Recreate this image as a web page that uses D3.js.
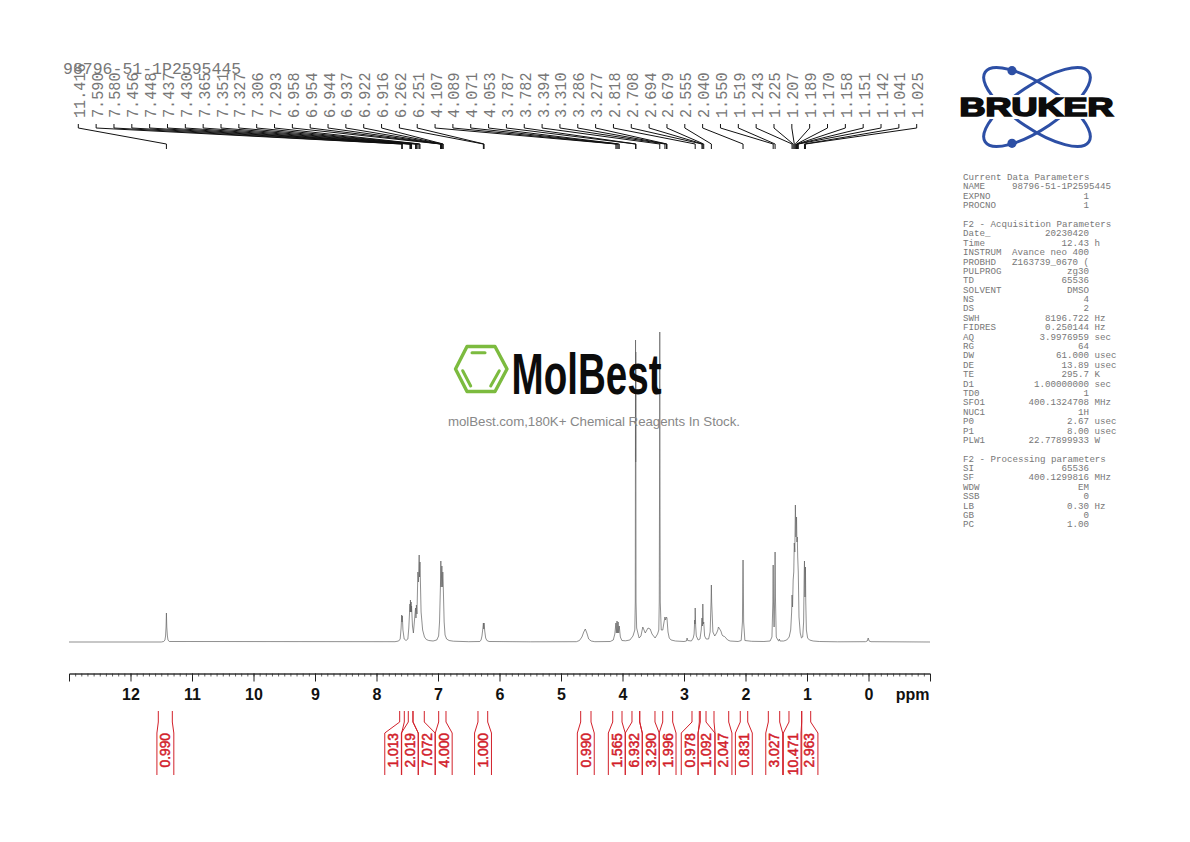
<!DOCTYPE html>
<html><head><meta charset="utf-8">
<style>html,body{margin:0;padding:0;background:#fff}svg{display:block}</style>
<script src="https://cdn.jsdelivr.net/npm/d3@7/dist/d3.min.js"></script>
</head><body><svg id="c" width="1190" height="842"></svg>
<script>
const sampleName = "98796-51-1P2595445";
const peakPicks = ["11.416","7.590","7.580","7.456","7.448","7.437","7.430","7.365","7.351","7.327","7.306","7.293",
 "6.958","6.954","6.944","6.937","6.922","6.916","6.262","6.251","4.107","4.089","4.071","4.053",
 "3.787","3.782","3.394","3.310","3.286","3.277","2.818","2.708","2.694","2.679","2.555","2.040",
 "1.550","1.519","1.243","1.225","1.207","1.189","1.170","1.158","1.151","1.142","1.041","1.025"];
const spectrumPpm = [13,11.5,11.46,11.44,11.43,11.422,11.416,11.41,11.4,11.39,11.37,7.7,7.64,
 7.615,7.6,7.59,7.585,7.58,7.57,7.55,7.52,7.49,7.475,7.456,7.452,7.448,7.443,7.437,7.433,7.43,7.415,7.4,
 7.365,7.358,7.351,7.342,7.327,7.318,7.306,7.3,7.293,7.275,7.25,7.22,7.19,7.15,7.08,7.02,6.99,6.975,
 6.958,6.954,6.949,6.944,6.937,6.93,6.922,6.916,6.9,6.885,6.86,6.82,6.75,6.5,6.32,6.3,6.285,6.27,6.262,6.256,6.251,6.24,6.225,6.205,6.17,
 5.5,4.75,4.7,4.66,4.63,4.605,4.58,4.55,4.51,4.45,4.2,4.15,4.125,4.107,4.1,4.089,4.08,4.071,4.062,4.053,4.035,4.01,3.95,3.88,3.83,3.8,3.792,3.788,3.786,3.784,3.78,3.77,3.73,
 3.7,3.67,3.63,3.585,3.55,3.52,3.47,3.43,3.41,3.402,3.396,3.394,3.392,3.386,3.37,3.345,3.33,3.31,3.3,3.286,3.277,3.26,3.24,3.21,3.14,3,2.96,2.95,2.94,2.88,
 2.85,2.836,2.826,2.822,2.818,2.81,2.8,2.77,2.74,2.72,2.708,2.7,2.694,2.687,2.679,2.665,2.64,2.6,2.575,2.56,2.555,2.55,2.53,2.5,2.47,2.45,2.44,2.42,2.4,2.38,2.366,2.34,2.29,2.25,2.12,
 2.07,2.05,2.043,2.04,2.037,2.03,2.01,1.9,1.7,1.6,1.57,1.555,1.55,1.545,1.535,1.525,1.519,1.513,1.5,1.47,1.46,1.45,1.44,1.38,1.33,1.29,1.265,1.25,1.243,1.235,1.225,1.215,1.207,1.198,1.189,1.18,1.17,1.164,1.158,1.151,1.142,1.13,1.11,1.09,1.07,1.055,1.045,1.041,1.037,1.033,1.029,1.025,1.02,1.01,.99,.96,.9,.8,.5,.05,.02,.005,-.01,-.04,-1];
const spectrumHeight = [0,0,.5,2,6,15,29,15,6,2,.5,.3,1,
 3,14,27,20,26,12,3,1.5,3,14,38,30,42,30,40,30,36,16,9,
 34,24,37,28,70,60,87,65,80,30,12,5,2.5,1.5,1,2,6,20,
 62,81,55,64,76,55,70,60,20,7,3,1.5,.8,.3,.5,2,6,14,19,13,19,11,4,1.5,.5,
 .2,.3,1.5,5,10,13,9,3,1,.3,.5,2,8,19,9,21,9,20,9,16,5,1.5,1.2,2,6,12,40,302,180,290,40,14,4,
 6,15,9,14,13,8,4,8,12,40,200,310,200,40,12,12,18,25,22,25,24,10,4,2,1,.5,1,4,1.5,1,
 4,8,22,18,34,16,6,2,3,12,24,16,38,18,20,6,3,3,10,40,57,40,10,6,9,12,15,13,11,7,6,5.5,2,1,.5,
 1.5,20,70,82,70,20,1.5,.7,.5,1,5,40,77,40,15,45,90,45,5,1.5,1,3,1,1,2,5,12,30,47,35,62,70,99,90,137,105,125,100,105,85,70,25,9,4,5,20,70,81,60,45,60,75,40,12,4,2,1,.5,.2,.3,1,4,1,.3,0];
const integralValues = ["0.990","1.013","2.019","7.072","4.000","1.000","0.990","1.565","6.932","3.290","1.996","0.978","1.092","2.047","0.831","3.027","10.471","2.963"];
const integralFrom = [11.548,7.623,7.483,7.407,6.989,6.35,4.68,4.159,3.846,3.72,3.346,2.87,2.735,2.512,2.085,1.629,1.293,1.086];
const integralTo   = [11.32,7.548,7.407,7.223,6.87,6.192,4.512,4.008,3.72,3.472,3.184,2.751,2.642,2.273,1.964,1.444,1.086,.94];
const integralLabelAt = [11.433,7.728,7.458,7.184,6.907,6.268,4.597,4.093,3.817,3.54,3.267,2.907,2.635,2.358,2.027,1.533,1.235,.96];
const axisTicks = [12,11,10,9,8,7,6,5,4,3,2,1,0];
const minorTicks = d3.range(129,-10,-1).map(d=>d/10);
const paramLines = [
["Current Data Parameters"],["NAME","98796-51-1P2595445"],["EXPNO","1"],["PROCNO","1"],[],
["F2 - Acquisition Parameters"],["Date_","20230420"],["Time","12.43","h"],["INSTRUM","Avance neo 400"],["PROBHD","Z163739_0670 ("],["PULPROG","zg30"],["TD","65536"],["SOLVENT","DMSO"],["NS","4"],["DS","2"],["SWH","8196.722","Hz"],["FIDRES","0.250144","Hz"],["AQ","3.9976959","sec"],["RG","64"],["DW","61.000","usec"],["DE","13.89","usec"],["TE","295.7","K"],["D1","1.00000000","sec"],["TD0","1"],["SFO1","400.1324708","MHz"],["NUC1","1H"],["P0","2.67","usec"],["P1","8.00","usec"],["PLW1","22.77899933","W"],[],
["F2 - Processing parameters"],["SI","65536"],["SF","400.1299816","MHz"],["WDW","EM"],["SSB","0"],["LB","0.30","Hz"],["GB","0"],["PC","1.00"]];

const svg = d3.select("#c");
const mono = "'Liberation Mono',monospace", sans = "'Liberation Sans',Arial,sans-serif";
const x = d3.scaleLinear().domain([13,-1]).range([69,930]);
const y = d3.scaleLinear().domain([0,310]).range([642,332]);

// spectrum
const pts = d3.zip(spectrumPpm, spectrumHeight);
svg.append("path").attr("d", d3.line().x(d=>x(d[0])).y(d=>y(d[1]))(pts))
  .attr("fill","none").attr("stroke","#606060").attr("stroke-width",.7).attr("stroke-linejoin","round");

// axis
const axY = 673.5;
const gMinor = svg.append("g").attr("transform",`translate(0,${axY})`)
  .call(d3.axisBottom(x).tickValues(minorTicks).tickSize(3).tickSizeOuter(0).tickFormat(""));
const gMajor = svg.append("g").attr("transform",`translate(0,${axY})`)
  .call(d3.axisBottom(x).tickValues(axisTicks).tickSize(8).tickSizeOuter(8).tickPadding(7).tickFormat(d3.format("d")));
gMinor.selectAll("path,line").attr("stroke","#333").attr("stroke-width",.8);
gMajor.selectAll("path,line").attr("stroke","#222").attr("stroke-width",1);
gMajor.selectAll("text").attr("font-family",sans).attr("font-weight","bold").attr("font-size",16).attr("fill","#111");
svg.append("text").text("ppm").attr("x",929.5).attr("y",700).attr("text-anchor","end")
  .attr("font-family",sans).attr("font-weight","bold").attr("font-size",16).attr("fill","#111");

// title and peak picks
svg.append("text").text(sampleName).attr("x",63).attr("y",73.5)
  .attr("font-family",mono).attr("font-size",16.5).attr("fill","#777");
const pickX = d3.scaleLinear().domain([0,peakPicks.length-1]).range([78.3,916.7]);
const pk = svg.append("g");
peakPicks.forEach((p,i)=>{
  const px = pickX(i), tx = x(+p);
  pk.append("text").text(p).attr("transform",`translate(${px+6.5},118) rotate(-90) scale(1,1.08)`)
    .attr("font-family",mono).attr("font-size",15.2).attr("fill","#777");
  pk.append("path").attr("d",d3.line()([[px,124],[px,128],[tx,144],[tx,149]]))
    .attr("fill","none").attr("stroke","#111").attr("stroke-width",1);
});

// integrals
const red = "#d2202a";
const ig = svg.append("g");
integralValues.forEach((v,i)=>{
  const cx = x(integralLabelAt[i]), hw = v.length>5?9.2:8.45;
  const edge = (p,b)=>d3.line()([[x(p),711],[x(p),722],[b,733],[b,775]]);
  ig.append("path").attr("d",edge(integralFrom[i],cx-hw)).attr("fill","none").attr("stroke",red).attr("stroke-width",1);
  ig.append("path").attr("d",edge(integralTo[i],cx+hw)).attr("fill","none").attr("stroke",red).attr("stroke-width",1);
  ig.append("text").text(v).attr("transform",`translate(${cx+5},733) rotate(-90)`).attr("text-anchor","end")
    .attr("font-family",sans).attr("font-size",13.8).attr("fill",red)
    .attr("stroke",red).attr("stroke-width",.5);
});

// parameters
const pg = svg.append("g").attr("font-family",mono).attr("font-size",9.17).attr("fill","#777");
paramLines.forEach((r,i)=>{
  const yy = 180+i*9.39;
  if(!r.length) return;
  pg.append("text").text(r[0]).attr("x",963).attr("y",yy);
  if(r[0]==="NAME") pg.append("text").text(r[1]).attr("x",1012).attr("y",yy);
  else if(r[1]) pg.append("text").text(r[1]).attr("x",1089).attr("y",yy).attr("text-anchor","end");
  if(r[2]) pg.append("text").text(r[2]).attr("x",1094.6).attr("y",yy);
});

// Bruker logo
const bl = svg.append("g");
[34,-34].forEach(a=>bl.append("ellipse").attr("cx",1037).attr("cy",107).attr("rx",62.5).attr("ry",22)
  .attr("transform",`rotate(${a} 1037 107)`).attr("fill","none").attr("stroke","#2d4fa5").attr("stroke-width",3));
[70.7,143.3].forEach(c=>bl.append("circle").attr("cx",1012).attr("cy",c).attr("r",4.6).attr("fill","#2d4fa5"));
bl.append("rect").attr("x",956).attr("y",95).attr("width",161).attr("height",24).attr("fill","#fff");
bl.append("text").text("BRUKER").attr("x",959.5).attr("y",116).attr("textLength",154).attr("lengthAdjust","spacingAndGlyphs")
  .attr("font-family",sans).attr("font-weight","bold").attr("font-size",25).attr("fill","#0c0c0c").attr("stroke","#0c0c0c").attr("stroke-width",1.6);

// MolBest watermark
const m = svg.append("g");
m.append("path").attr("d","M467,346.5 L495,346.5 L507,369 L495,391.5 L467,391.5 L455.5,369 Z")
  .attr("fill","none").attr("stroke","#7cbb3f").attr("stroke-width",3.4).attr("stroke-linejoin","round");
[[472,352.7,485,352.7],[462.7,370.7,470.7,386],[499.3,370.7,490.7,386]].forEach(l=>
  m.append("line").attr("x1",l[0]).attr("y1",l[1]).attr("x2",l[2]).attr("y2",l[3]).attr("stroke","#7cbb3f").attr("stroke-width",3).attr("stroke-linecap","round"));
m.append("text").text("MolBest").attr("x",511.5).attr("y",394).attr("textLength",150).attr("lengthAdjust","spacingAndGlyphs")
  .attr("font-family",sans).attr("font-weight","bold").attr("font-size",57).attr("fill","#0c0c0c");
m.append("text").text("molBest.com,180K+ Chemical Reagents In Stock.").attr("x",448).attr("y",426).attr("textLength",292).attr("lengthAdjust","spacing")
  .attr("font-family",sans).attr("font-size",13.3).attr("fill","#888");
</script></body></html>
